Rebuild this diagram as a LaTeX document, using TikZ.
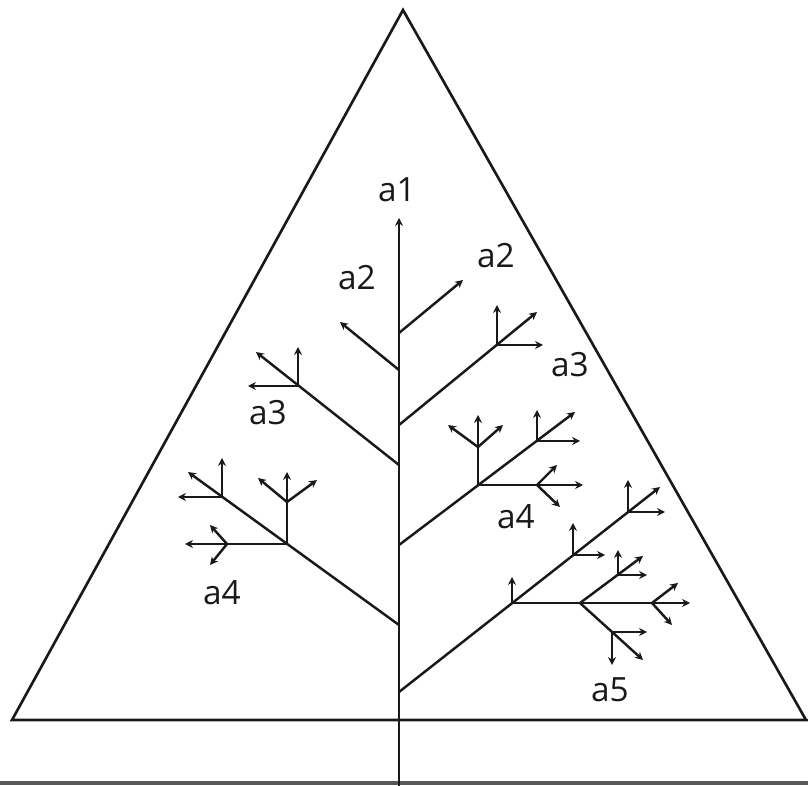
\documentclass[tikz,border=0pt]{standalone}
\usepackage{fontspec}
\setmainfont{Open Sans}
\usepackage{tikz}
\usetikzlibrary{arrows.meta}
\definecolor{mydark}{RGB}{25,25,25}
\definecolor{mygray}{RGB}{90,90,90}
\tikzset{
  frame/.style={line width=1.5pt, color=mydark, line join=miter},
  trunk/.style={line width=1.6pt, color=mydark},
  twig/.style={-{Stealth[length=4.5pt,width=4.5pt]}, line width=1.4pt, color=mydark},
  lbl/.style={font=\fontsize{19}{22}\selectfont, color=mydark, inner sep=0pt}
}
\begin{document}
\begin{tikzpicture}[x=0.02cm, y=-0.02cm]
  \useasboundingbox (0,0) rectangle (808,786);

  % Triangle and ground
  \draw[frame] (403,10) -- (12,720) -- (806,720) -- cycle;
  \draw[frame] (806,720) -- (808,720);
  \draw[line width=2pt, color=mygray] (0,783) -- (808,783);

  % Trunk
  \coordinate (root) at (399,786);
  \coordinate (top) at (399,218);
  \foreach \n/\y in {1/333, 2/370, 3/425, 4/465, 5/545, 6/625, 7/692}
    \coordinate (t\n) at (399,\y);
  \draw[trunk, -{Stealth[length=4.5pt,width=4.5pt]}] (root) -- (top);
  \node[lbl] (la1) at (397,190) {a1};

  % a2 branches
  \draw[twig] (t1) -- (463,280);
  \draw[twig] (t2) -- (340,322);
  \node[lbl] (la2r) at (496,256) {a2};
  \node[lbl] (la2l) at (357,278) {a2};

  % a3 right
  \coordinate (j3r) at (497,345);
  \draw[twig] (t3) -- (537,312);
  \draw[twig] (j3r) -- (497,305);
  \draw[twig] (j3r) -- (543,345);
  \node[lbl] (la3r) at (570,365) {a3};

  % a3 left
  \coordinate (j3l) at (298,386);
  \draw[twig] (t4) -- (256,352);
  \draw[twig] (j3l) -- (298,347);
  \draw[twig] (j3l) -- (248,386);
  \node[lbl] (la3l) at (268,413) {a3};

  % a4 left
  \coordinate (ja) at (287,544);
  \coordinate (jb) at (222,497);
  \coordinate (jas) at (287,502);
  \coordinate (jah) at (227,544);
  \draw[twig] (t6) -- (188,472);
  \draw[twig] (ja) -- (287,472);
  \draw[twig] (jas) -- (258,478);
  \draw[twig] (jas) -- (317,480);
  \draw[twig] (ja) -- (185,544);
  \draw[twig] (jah) -- (210,525);
  \draw[twig] (jah) -- (210,565);
  \draw[twig] (jb) -- (222,458);
  \draw[twig] (jb) -- (178,497);
  \node[lbl] (la4l) at (222,593) {a4};

  % a4 right
  \coordinate (jc) at (478,485);
  \coordinate (jd) at (537,441);
  \coordinate (jcs) at (478,447);
  \coordinate (jch) at (537,485);
  \draw[twig] (t5) -- (575,412);
  \draw[twig] (jc) -- (478,415);
  \draw[twig] (jcs) -- (448,425);
  \draw[twig] (jcs) -- (503,425);
  \draw[twig] (jc) -- (583,485);
  \draw[twig] (jch) -- (557,465);
  \draw[twig] (jch) -- (560,507);
  \draw[twig] (jd) -- (537,410);
  \draw[twig] (jd) -- (580,441);
  \node[lbl] (la4r) at (516,517) {a4};

  % a5 right
  \coordinate (je) at (512,603);
  \coordinate (jf) at (573,555);
  \coordinate (jg) at (628,512);
  \coordinate (jh) at (580,603);
  \coordinate (jk) at (652,603);
  \coordinate (jhu) at (618,575);
  \coordinate (jhd) at (612,632);
  \draw[twig] (t7) -- (660,487);
  \draw[twig] (je) -- (512,577);
  \draw[twig] (je) -- (690,603);
  \draw[twig] (jh) -- (643,556);
  \draw[twig] (jhu) -- (618,550);
  \draw[twig] (jhu) -- (647,575);
  \draw[twig] (jh) -- (643,660);
  \draw[twig] (jhd) -- (612,665);
  \draw[twig] (jhd) -- (647,632);
  \draw[twig] (jk) -- (678,583);
  \draw[twig] (jk) -- (672,625);
  \draw[twig] (jf) -- (573,523);
  \draw[twig] (jf) -- (605,555);
  \draw[twig] (jg) -- (628,480);
  \draw[twig] (jg) -- (665,512);
  \node[lbl] (la5) at (610,690) {a5};
\end{tikzpicture}
\end{document}
